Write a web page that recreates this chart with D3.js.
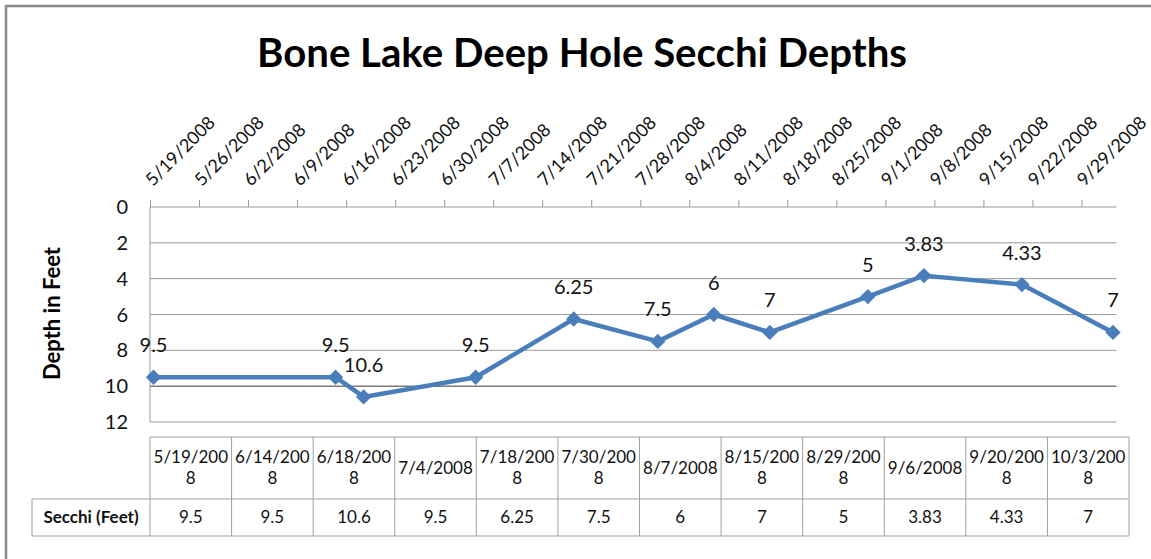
<!DOCTYPE html>
<html>
<head>
<meta charset="utf-8">
<script src="https://cdn.jsdelivr.net/npm/d3@7"></script>
<style>
  body { margin: 0; background: #fff; }
  svg { display: block; font-family: Lato, "Open Sans", sans-serif; }
</style>
</head>
<body>
<div id="chart"></div>
<script>
// --- data ---
const sampleDates = ["2008-05-19", "2008-06-14", "2008-06-18", "2008-07-04", "2008-07-18", "2008-07-30",
                     "2008-08-07", "2008-08-15", "2008-08-29", "2008-09-06", "2008-09-20", "2008-10-03"];
const secchiFeet = [9.5, 9.5, 10.6, 9.5, 6.25, 7.5, 6, 7, 5, 3.83, 4.33, 7];
const valueLabels = ["9.5", "9.5", "10.6", "9.5", "6.25", "7.5", "6", "7", "5", "3.83", "4.33", "7"];
const tableDateLabels = ["5/19/2008", "6/14/2008", "6/18/2008", "7/4/2008", "7/18/2008", "7/30/2008",
                         "8/7/2008", "8/15/2008", "8/29/2008", "9/6/2008", "9/20/2008", "10/3/2008"];
const depthTicks = [0, 2, 4, 6, 8, 10, 12];
const axisStart = "2008-05-19", axisEnd = "2008-10-04";
const seriesName = "Secchi (Feet)";
const chartTitle = "Bone Lake Deep Hole Secchi Depths";
const yTitle = "Depth in Feet";

const W = 1151, H = 559;
const plot = {left: 150, right: 1116.5, top: 207, bottom: 422};
const table = {labelLeft: 32, left: 150, right: 1129, top: 437, mid: 499, bottom: 536};
const blue = "#4a7ebb", grid = "#999", textCol = "#111";

const parse = d3.utcParse("%Y-%m-%d");
const fmt = d3.utcFormat("%-m/%-d/%Y");

const svg = d3.select("#chart").append("svg")
    .attr("width", W).attr("height", H);

svg.append("rect").attr("width", W).attr("height", H).attr("fill", "#fff");

// frame edges (only top & left visible in the source)
svg.append("path")
    .attr("d", `M6,${H} V6 H${W}`)
    .attr("fill", "none").attr("stroke", "#8a8a8a").attr("stroke-width", 2.5);

// title
const title = svg.append("text")
    .attr("x", 582).attr("y", 67)
    .attr("text-anchor", "middle")
    .style("font-size", "40px").style("font-weight", "bold")
    .attr("fill", "#000")
    .text(chartTitle);
// squeeze to the width the title takes in the source
const tw = title.node().getComputedTextLength();
title.style("font-size", (40 * 650 / tw) + "px");

// scales
const x = d3.scaleUtc()
    .domain([parse(axisStart), parse(axisEnd)])
    .range([plot.left, plot.right]);
const y = d3.scaleLinear()
    .domain([0, 12])
    .range([plot.top, plot.bottom]);

// gridlines
svg.append("g")
  .selectAll("line")
  .data(depthTicks.filter(d => d > 0))
  .join("line")
    .attr("x1", plot.left).attr("x2", plot.right)
    .attr("y1", d => y(d)).attr("y2", d => y(d))
    .attr("stroke", d => d === 10 ? "#7a7a7a" : grid)
    .attr("stroke-width", d => d === 10 ? 1.5 : 1);

// left axis line
svg.append("line")
    .attr("x1", plot.left).attr("x2", plot.left)
    .attr("y1", plot.top).attr("y2", plot.bottom)
    .attr("stroke", grid);

// y tick labels
svg.append("g")
  .selectAll("text")
  .data(depthTicks)
  .join("text")
    .attr("x", 128).attr("y", d => y(d))
    .attr("dy", "0.35em")
    .attr("text-anchor", "end")
    .style("font-size", "20px")
    .attr("fill", textCol)
    .text(d => d);

// y title
svg.append("text")
    .attr("transform", `translate(60, ${(plot.top + plot.bottom) / 2 - 1}) rotate(-90)`)
    .attr("text-anchor", "middle")
    .style("font-size", "22px").style("font-weight", "bold")
    .attr("fill", "#000")
    .text(yTitle);

// top date axis, weekly ticks
const weekTicks = d3.utcMonday.range(parse(axisStart), parse(axisEnd));
const topAxis = d3.axisTop(x)
    .tickValues(weekTicks)
    .tickSize(7)
    .tickFormat("");
const gTop = svg.append("g")
    .attr("transform", `translate(0, ${plot.top})`)
    .call(topAxis);
gTop.select(".domain").attr("stroke", grid).attr("d", `M${plot.left},0H${plot.right}`);
gTop.selectAll(".tick line").attr("stroke", grid);

svg.append("g")
  .selectAll("text")
  .data(weekTicks)
  .join("text")
    .attr("transform", d => `translate(${x(d) + 3}, 187) rotate(-45)`)
    .attr("text-anchor", "start")
    .style("font-size", "18px")
    .attr("fill", textCol)
    .text(d => fmt(d));

// series: points sit in the middle of their day, as Excel's date axis does
const pts = sampleDates.map((d, i) => ({
  date: d3.utcHour.offset(parse(d), 12),
  v: secchiFeet[i],
  label: valueLabels[i]
}));

svg.append("path")
    .datum(pts)
    .attr("fill", "none")
    .attr("stroke", blue)
    .attr("stroke-width", 4.5)
    .attr("stroke-linejoin", "round")
    .attr("d", d3.line().x(d => x(d.date)).y(d => y(d.v)));

svg.append("g")
  .selectAll("path")
  .data(pts)
  .join("path")
    .attr("transform", d => `translate(${x(d.date)}, ${y(d.v)}) rotate(45)`)
    .attr("d", d3.symbol(d3.symbolSquare, 118))
    .attr("fill", blue);

svg.append("g")
  .selectAll("text")
  .data(pts)
  .join("text")
    .attr("x", d => x(d.date))
    .attr("y", d => y(d.v) - 25)
    .attr("text-anchor", "middle")
    .style("font-size", "20px")
    .attr("fill", textCol)
    .text(d => d.label);

// data table under the chart
const col = d3.scaleBand()
    .domain(d3.range(tableDateLabels.length))
    .range([table.left, table.right]);

const gT = svg.append("g").attr("stroke", "#a0a0a0").attr("stroke-width", 1);
gT.append("path")
    .attr("fill", "none")
    .attr("d", `M${table.left},${table.top}H${table.right}V${table.bottom}H${table.labelLeft}V${table.mid}H${table.right}`);
gT.selectAll("line.col")
  .data(d3.range(tableDateLabels.length))
  .join("line")
    .attr("class", "col")
    .attr("x1", i => col(i)).attr("x2", i => col(i))
    .attr("y1", table.top).attr("y2", table.bottom);

// header cells: Excel wraps the long dates after 8 characters
const header = svg.append("g")
  .selectAll("text")
  .data(tableDateLabels)
  .join("text")
    .attr("text-anchor", "middle")
    .style("font-size", "17px")
    .attr("fill", textCol);
header.each(function(d, i) {
  const lines = d.length > 8 ? [d.slice(0, 8), d.slice(8)] : [d];
  const cx = col(i) + col.bandwidth() / 2;
  const lh = 21;
  const y0 = (table.top + table.mid) / 2 - (lines.length - 1) * lh / 2;
  d3.select(this).selectAll("tspan")
    .data(lines)
    .join("tspan")
      .attr("x", cx)
      .attr("y", (l, k) => y0 + k * lh)
      .attr("dy", "0.35em")
      .text(l => l);
});

svg.append("text")
    .attr("x", (table.labelLeft + table.left) / 2)
    .attr("y", (table.mid + table.bottom) / 2)
    .attr("dy", "0.35em")
    .attr("text-anchor", "middle")
    .style("font-size", "17px").style("font-weight", "bold")
    .attr("fill", textCol)
    .text(seriesName);

svg.append("g")
  .selectAll("text")
  .data(valueLabels)
  .join("text")
    .attr("x", (d, i) => col(i) + col.bandwidth() / 2)
    .attr("y", (table.mid + table.bottom) / 2)
    .attr("dy", "0.35em")
    .attr("text-anchor", "middle")
    .style("font-size", "17px")
    .attr("fill", textCol)
    .text(d => d);
</script>
</body>
</html>
